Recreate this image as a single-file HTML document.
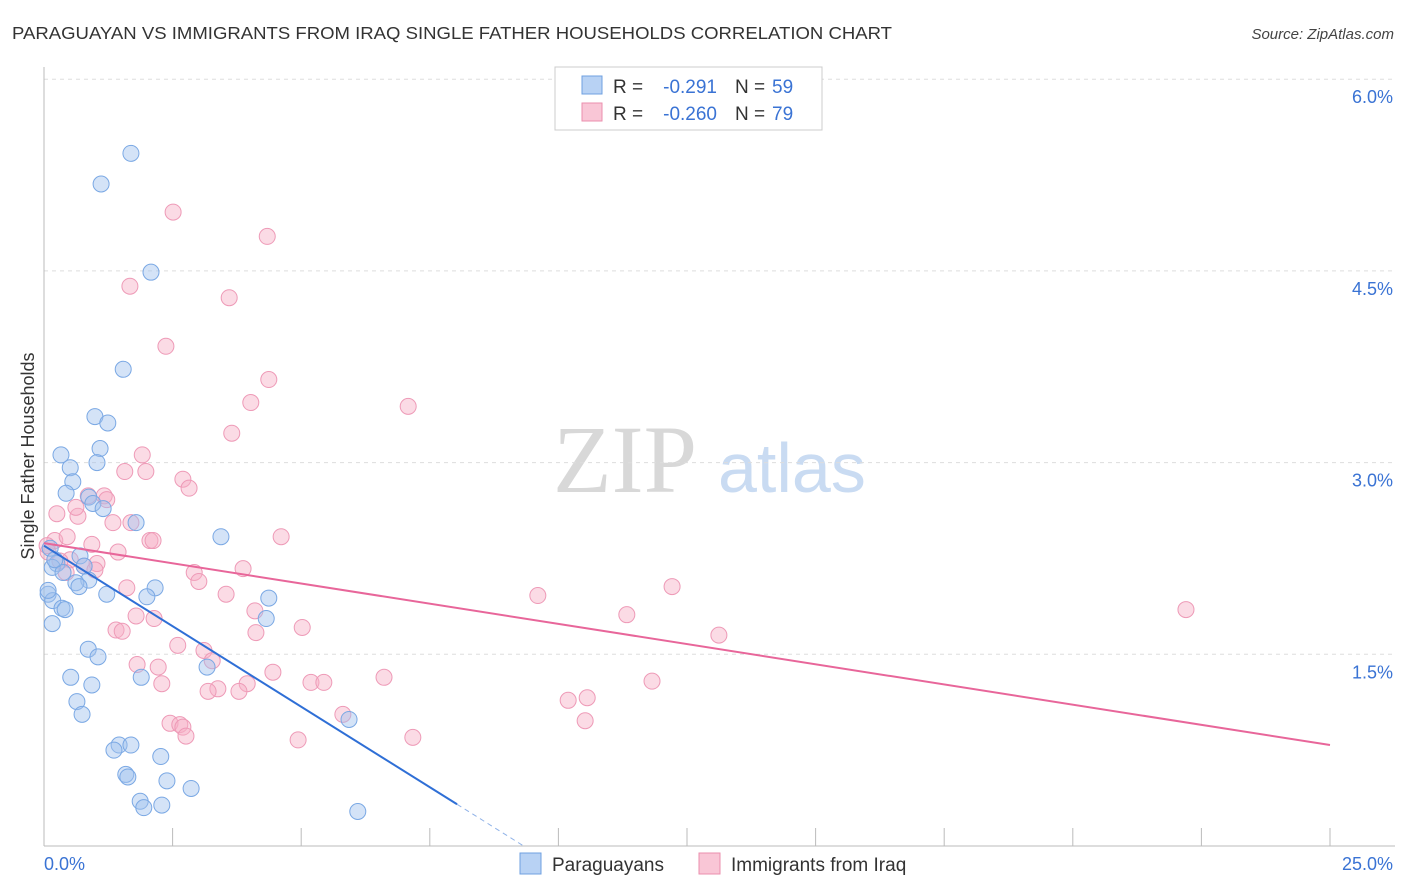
<!DOCTYPE html>
<html><head><meta charset="utf-8"><style>
body{margin:0;background:#fff;font-family:"Liberation Sans",sans-serif;}
svg{display:block}
</style></head><body>
<svg id="chart" width="1406" height="892" xmlns="http://www.w3.org/2000/svg">
<text x="12" y="39" font-size="17.5" fill="#333" textLength="880" lengthAdjust="spacingAndGlyphs">PARAGUAYAN VS IMMIGRANTS FROM IRAQ SINGLE FATHER HOUSEHOLDS CORRELATION CHART</text>
<text x="1394" y="39" font-size="15" fill="#444" font-style="italic" text-anchor="end">Source: ZipAtlas.com</text>
<g>
<text x="553" y="492" font-family="Liberation Serif,serif" font-size="96" fill="#d8d8d8">ZIP</text>
<text x="718" y="492" font-size="70" fill="#c9dbf2">atlas</text>
</g>
<g id="grid"></g>
<g id="axes"></g>
<g id="points"></g>
<g id="trends"></g>
<text transform="translate(34,456) rotate(-90)" font-size="18" fill="#333" text-anchor="middle">Single Father Households</text>
<g>
<rect x="555" y="67" width="267" height="63" fill="#fff" stroke="#ccc"/>
<rect x="582" y="76" width="20" height="18" fill="#b8d2f4" stroke="#6fa0e0"/>
<rect x="582" y="103" width="20" height="18" fill="#f9c6d6" stroke="#eb8fae"/>
<text x="613" y="93" font-size="19" fill="#333">R =</text>
<text x="717" y="93" font-size="19" fill="#3a73d4" text-anchor="end">-0.291</text>
<text x="735" y="93" font-size="19" fill="#333">N =</text>
<text x="772" y="93" font-size="19" fill="#3a73d4">59</text>
<text x="613" y="120" font-size="19" fill="#333">R =</text>
<text x="717" y="120" font-size="19" fill="#3a73d4" text-anchor="end">-0.260</text>
<text x="735" y="120" font-size="19" fill="#333">N =</text>
<text x="772" y="120" font-size="19" fill="#3a73d4">79</text>
</g>
<g>
<rect x="520" y="853" width="21" height="21" fill="#b8d2f4" stroke="#6fa0e0"/>
<text x="552" y="871" font-size="19" fill="#333">Paraguayans</text>
<rect x="699" y="853" width="21" height="21" fill="#f9c6d6" stroke="#eb8fae"/>
<text x="731" y="871" font-size="19" fill="#333">Immigrants from Iraq</text>
</g>
</svg>
<script>
const xTicksLabels = ["0.0%","25.0%"];
const yTickValues = [1.5,3.0,4.5,6.0];
const yTickLabels = ["1.5%","3.0%","4.5%","6.0%"];
const blueX = [1.69,1.11,2.08,1.54,0.99,1.24,1.09,0.33,1.03,0.51,0.56,0.43,0.87,0.95,1.15,1.79,3.44,0.12,0.70,0.25,0.78,0.16,0.37,0.87,0.62,0.68,2.16,1.22,2.00,0.08,0.17,4.37,0.35,0.41,0.16,4.32,0.86,1.05,3.17,0.52,1.89,0.93,0.64,0.74,5.93,1.46,1.69,1.36,2.27,1.59,1.63,2.39,2.86,1.87,1.94,2.29,6.10,0.08,0.21];
const blueY = [5.42,5.18,4.49,3.73,3.36,3.31,3.11,3.06,3.00,2.96,2.85,2.76,2.73,2.68,2.64,2.53,2.42,2.33,2.27,2.21,2.19,2.18,2.14,2.08,2.06,2.03,2.02,1.97,1.95,1.97,1.92,1.94,1.86,1.85,1.74,1.78,1.54,1.48,1.40,1.32,1.32,1.26,1.13,1.03,0.99,0.79,0.79,0.75,0.70,0.56,0.54,0.51,0.45,0.35,0.30,0.32,0.27,2.00,2.24];
const pinkX = [2.51,4.34,1.67,3.60,2.37,4.37,4.02,7.08,3.65,1.91,1.57,1.98,2.70,2.82,0.86,1.17,1.22,1.69,1.34,0.25,0.66,0.62,4.61,2.06,2.12,0.93,1.44,0.21,0.08,0.51,1.03,0.78,0.99,0.43,3.87,2.92,12.21,1.61,3.01,9.60,3.54,11.33,2.14,4.10,22.20,1.79,5.02,1.40,4.12,1.52,13.12,2.60,3.11,1.81,2.22,3.27,4.45,6.61,11.82,2.29,3.38,3.95,5.19,5.44,3.19,3.79,10.56,10.19,5.81,2.45,2.64,2.70,10.52,2.76,7.17,4.94,0.45,0.06,0.31];
const pinkY = [4.96,4.77,4.38,4.29,3.91,3.65,3.47,3.44,3.23,3.06,2.93,2.93,2.87,2.80,2.74,2.74,2.71,2.53,2.53,2.60,2.58,2.65,2.42,2.39,2.39,2.36,2.30,2.39,2.30,2.24,2.21,2.19,2.16,2.14,2.17,2.14,2.03,2.02,2.07,1.96,1.97,1.81,1.78,1.84,1.85,1.80,1.71,1.69,1.67,1.68,1.65,1.57,1.53,1.42,1.40,1.45,1.36,1.32,1.29,1.27,1.23,1.27,1.28,1.28,1.21,1.21,1.16,1.14,1.03,0.96,0.95,0.93,0.98,0.86,0.85,0.83,2.42,2.35,2.23];
const blueTrend = [2.35,-0.252];
const pinkTrend = [2.37,-0.0632];

const NS="http://www.w3.org/2000/svg";
const X0=44,XW=1286/25,Y0=846,YH=127.8;
const sx=v=>X0+v*XW, sy=v=>Y0-v*YH;
function mk(tag,attrs,parent){const e=document.createElementNS(NS,tag);for(const k in attrs)e.setAttribute(k,attrs[k]);parent.appendChild(e);return e;}
const grid=document.getElementById('grid'),axes=document.getElementById('axes');
yTickValues.forEach((v,i)=>{
  const l=mk('line',{x1:44,x2:1395,y1:sy(v),y2:sy(v),stroke:'#ddd','stroke-dasharray':'4,4'},grid);
  
  
  const t=mk('text',{x:1393,y:sy(v)+24,'font-size':18,fill:'#3a73d4','text-anchor':'end'},axes);
  t.textContent=yTickLabels[i];
  
  
});
const ax=mk('line',{x1:44,x2:44,y1:67,y2:846,stroke:'#bbb'},axes);


const bx=mk('line',{x1:44,x2:1395,y1:846,y2:846,stroke:'#bbb'},axes);


for(let i=0;i<=10;i++){
  const t=mk('line',{x1:sx(i*2.5),x2:sx(i*2.5),y1:828,y2:846,stroke:'#bbb'},axes);
  
  
}
const xl0=mk('text',{x:44,y:870,'font-size':18,fill:'#3a73d4'},axes);xl0.textContent=xTicksLabels[0];


const xl1=mk('text',{x:1393,y:870,'font-size':18,fill:'#3a73d4','text-anchor':'end'},axes);xl1.textContent=xTicksLabels[1];


const pts=document.getElementById('points');
function dots(X,Y,fill,stroke,name){X.forEach((x,i)=>{
  const c=mk('circle',{cx:sx(x),cy:sy(Y[i]),r:8,fill:fill,'fill-opacity':0.45,stroke:stroke,'stroke-width':1},pts);
  
  
});}
dots(pinkX,pinkY,'#f6b0c6','#ee9ab7','iraq-point');
dots(blueX,blueY,'#9fc0ee','#7aa8e4','paraguayan-point');
const tr=document.getElementById('trends');
const bEnd=8.03, bZero=-blueTrend[0]/blueTrend[1];
const b1=mk('line',{x1:sx(0),y1:sy(blueTrend[0]),x2:sx(bEnd),y2:sy(blueTrend[0]+blueTrend[1]*bEnd),stroke:'#2f6fd6','stroke-width':2},tr);


const b2=mk('line',{x1:sx(bEnd),y1:sy(blueTrend[0]+blueTrend[1]*bEnd),x2:sx(bZero),y2:sy(0),stroke:'#8fb2e8','stroke-width':1,'stroke-dasharray':'5,4'},tr);


const p1=mk('line',{x1:sx(0),y1:sy(pinkTrend[0]),x2:sx(25),y2:sy(pinkTrend[0]+pinkTrend[1]*25),stroke:'#e8669a','stroke-width':2},tr);


</script>
</body></html>
